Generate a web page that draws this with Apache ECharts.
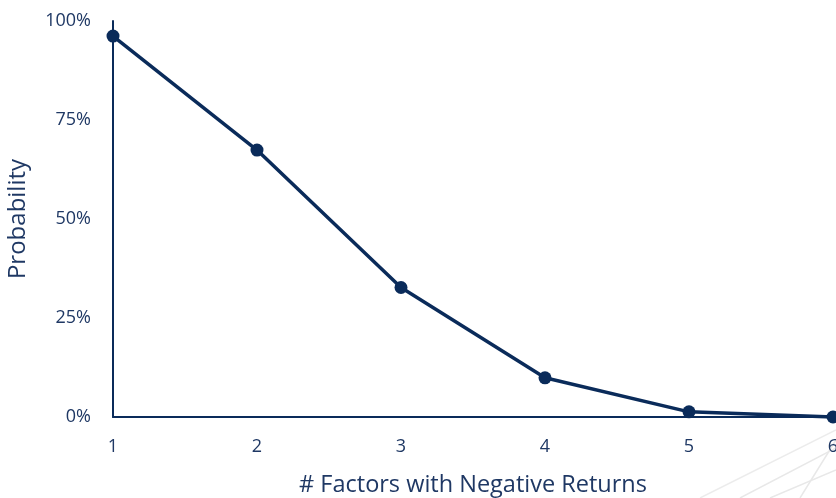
<!DOCTYPE html>
<html>
<head>
<meta charset="utf-8">
<script src="https://cdn.jsdelivr.net/npm/echarts@6/dist/echarts.min.js"></script>
<style>html,body{margin:0;padding:0;background:#fff}#c{width:836px;height:498px}</style>
</head>
<body>
<div id="c"></div>
<script>
const factors = [1, 2, 3, 4, 5, 6];
const probability = [0.962, 0.674, 0.327, 0.099, 0.013, 0.0];
const yTicks = [0, 0.25, 0.5, 0.75, 1];
const xName = '# Factors with Negative Returns';
const yName = 'Probability';

const navy = '#0a2b5a';
const textColor = '#1f3864';
const font = '"Open Sans"';

const chart = echarts.init(document.getElementById('c'), null, {renderer: 'canvas'});
chart.setOption({
  animation: false,
  backgroundColor: '#fff',
  grid: {left: 113, right: 3, top: 21, bottom: 81, containLabel: false, outerBoundsMode: 'none'},
  graphic: [
    {type: 'line', shape: {x1: 740, y1: 498, x2: 836, y2: 448}, style: {stroke: '#e8e8e8', lineWidth: 1.5}, z: -1},
    {type: 'line', shape: {x1: 770, y1: 498, x2: 836, y2: 470}, style: {stroke: '#e8e8e8', lineWidth: 1.5}, z: -1},
    {type: 'line', shape: {x1: 800, y1: 498, x2: 836, y2: 440}, style: {stroke: '#e8e8e8', lineWidth: 1.5}, z: -1},
    {type: 'line', shape: {x1: 700, y1: 498, x2: 836, y2: 430}, style: {stroke: '#ececec', lineWidth: 1.5}, z: -1}
  ],
  xAxis: {
    type: 'value', min: 1, max: 6, interval: 1,
    name: xName, nameLocation: 'middle', nameGap: 56,
    nameTextStyle: {color: textColor, fontSize: 23.5, fontFamily: font},
    axisLine: {show: true, lineStyle: {color: navy, width: 2}},
    axisTick: {show: false},
    splitLine: {show: false},
    axisLabel: {color: textColor, fontSize: 18, fontFamily: font, margin: 21,
      formatter: v => factors.includes(v) ? String(v) : ''}
  },
  yAxis: {
    type: 'value', min: 0, max: 1, interval: 0.25,
    name: yName, nameLocation: 'middle', nameGap: 83,
    nameTextStyle: {color: textColor, fontSize: 24, fontFamily: font},
    axisLine: {show: true, lineStyle: {color: navy, width: 2}},
    axisTick: {show: false},
    splitLine: {show: false},
    axisLabel: {color: textColor, fontSize: 18, fontFamily: font, margin: 22,
      formatter: v => yTicks.includes(v) ? Math.round(v * 100) + '%' : ''}
  },
  series: [{
    type: 'line',
    data: factors.map((f, i) => [f, probability[i]]),
    symbol: 'circle', symbolSize: 13,
    lineStyle: {color: navy, width: 3.5},
    itemStyle: {color: navy},
    clip: false
  }]
});
</script>
</body>
</html>
